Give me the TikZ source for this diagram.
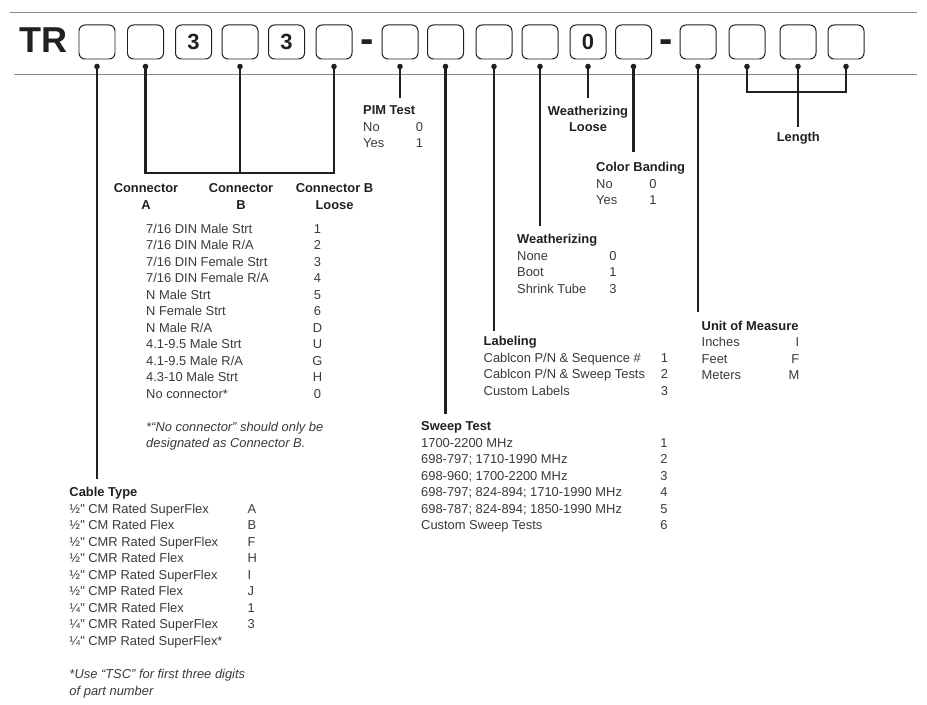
\documentclass[tikz,border=0pt]{standalone}
\usepackage{fontspec}
\setmainfont{Liberation Sans}[Ligatures=TeXOff]
\usetikzlibrary{calc}
\definecolor{inkdark}{HTML}{231F20}
\definecolor{inkbody}{HTML}{3A3A3A}
\definecolor{rulegray}{HTML}{8A8A8A}
\newcommand{\bodysize}{\fontsize{12.9bp}{16.5bp}\selectfont}

\begin{document}
\begin{tikzpicture}[x=1bp, y=-1bp]
\tikzset{
  codebox/.style={draw=inkdark, line width=1pt, rounded corners=6bp, minimum width=36bp, minimum height=34bp, inner sep=0pt},
  digit/.style={inner sep=0pt, text=inkdark, font=\bfseries\fontsize{22bp}{22bp}\selectfont},
  dashmark/.style={anchor=base, inner sep=0pt, text=inkdark, font=\bfseries\fontsize{40bp}{40bp}\selectfont},
  lead/.style={draw=inkdark, line width=2.2bp},
  rule/.style={draw=rulegray, line width=0.9bp},
  optitle/.style={anchor=base west, inner sep=0pt, text=inkdark, font=\bodysize\bfseries},
  coltitle/.style={anchor=north, align=center, inner sep=0pt, text=inkdark, font=\bodysize\bfseries},
  optitem/.style={anchor=base west, inner sep=0pt, text=inkbody, font=\bodysize},
  optnote/.style={optitem, font=\bodysize\itshape},
  optcode/.style={anchor=base, inner sep=0pt, text=inkbody, font=\bodysize},
  optcodeR/.style={optcode, anchor=base east}
}
\useasboundingbox (0,0) rectangle (927,705);

% part number strip
\draw[rule] (10,12) -- (917,12);
\draw[rule] (14,74) -- (917,74);
\node[anchor=base west, inner sep=0pt, text=inkdark, font=\bfseries\fontsize{36bp}{36bp}\selectfont] (tr) at (19,52.5) {TR};
\foreach \x [count=\i] in {97,145.5,193.5,240,286.5,334,400,445.5,494,540,588,633.5,698,747,798,846}
  \node[codebox] (b\i) at (\x,42) {};
\node[digit] (dig3) at (b3) {3};
\node[digit] (dig5) at (b5) {3};
\node[digit] (dig11) at (b11) {0};
\node[dashmark] (dash1) at (367,53) {-};
\node[dashmark] (dash2) at (666,53) {-};

% dots under the boxes
\foreach \i in {1,2,4,6,7,8,9,10,11,12,13,14,15,16}{
  \coordinate (d\i) at ($(b\i.south)+(0,7)$);
  \fill[inkdark] (d\i) circle (2.8bp);
}

% lead ends
\coordinate (e1)   at ($(d1)+(0,412)$);
\coordinate (cbar) at ($(d4)+(0,106.5)$);
\coordinate (e7)   at ($(d7)+(0,32)$);
\coordinate (e8)   at ($(d8)+(0,347)$);
\coordinate (e9)   at ($(d9)+(0,264)$);
\coordinate (e10)  at ($(d10)+(0,160)$);
\coordinate (e11)  at ($(d11)+(0,32)$);
\coordinate (e12)  at ($(d12)+(0,86)$);
\coordinate (e13)  at ($(d13)+(0,245)$);
\coordinate (lbar) at ($(d15)+(0,25.5)$);
\coordinate (e15)  at ($(d15)+(0,61)$);

% leads
\draw[lead] (d1) -- (e1);
\draw[lead] (d2) |- (cbar) -| (d6);
\draw[lead] (d4) -- (cbar);
\foreach \i in {7,...,13}
  \draw[lead] (d\i) -- (e\i);
\draw[lead] (d14) |- (lbar) -| (d16);
\draw[lead] (d15) -- (e15);

% PIM test
\node[optitle] (pim) at (363,115) {PIM Test};
\foreach \txt/\cd [count=\i from 0] in {No/0, Yes/1}{
  \node[optitem] (pim\i) at (363,131.5+16.5*\i) {\txt};
  \node[optcode] (pimcode\i) at (419.5,131.5+16.5*\i) {\cd};
}

% connectors
\node[coltitle] (cona) at (146,183.5) {Connector\\A};
\node[coltitle] (conb) at (241,183.5) {Connector\\B};
\node[coltitle] (conbl) at (334.5,183.5) {Connector B\\Loose};
\foreach \txt/\cd [count=\i from 0] in {{7/16 DIN Male Strt}/1, {7/16 DIN Male R/A}/2,
    {7/16 DIN Female Strt}/3, {7/16 DIN Female R/A}/4, {N Male Strt}/5, {N Female Strt}/6,
    {N Male R/A}/D, {4.1-9.5 Male Strt}/U, {4.1-9.5 Male R/A}/G, {4.3-10 Male Strt}/H,
    {No connector*}/0}{
  \node[optitem] (conn\i) at (146,233.3+16.5*\i) {\txt};
  \node[optcode] (conncode\i) at (317.5,233.3+16.5*\i) {\cd};
}
\node[optnote] (connote1) at (146,431.5) {*“No connector” should only be};
\node[optnote] (connote2) at (146,447.8) {designated as Connector B.};

% cable type
\node[optitle] (cable) at (69.3,496.7) {Cable Type};
\foreach \txt [count=\i from 0] in {½" CM Rated SuperFlex, ½" CM Rated Flex, ½" CMR Rated SuperFlex,
    ½" CMR Rated Flex, ½" CMP Rated SuperFlex, ½" CMP Rated Flex, ¼" CMR Rated Flex,
    ¼" CMR Rated SuperFlex, ¼" CMP Rated SuperFlex*}
  \node[optitem] (cab\i) at (69.3,513.3+16.5*\i) {\txt};
\foreach \cd [count=\i from 0] in {A,B,F,H,I,J,1,3}
  \node[optitem] (cabcode\i) at (247.5,513.3+16.5*\i) {\cd};
\node[optnote] (cabnote1) at (69.3,678.5) {*Use “TSC” for first three digits};
\node[optnote] (cabnote2) at (69.3,695) {of part number};

% sweep test
\node[optitle] (sweep) at (421,430.5) {Sweep Test};
\foreach \txt/\cd [count=\i from 0] in {1700-2200 MHz/1, {698-797; 1710-1990 MHz}/2,
    {698-960; 1700-2200 MHz}/3, {698-797; 824-894; 1710-1990 MHz}/4,
    {698-787; 824-894; 1850-1990 MHz}/5, Custom Sweep Tests/6}{
  \node[optitem] (sw\i) at (421,447+16.5*\i) {\txt};
  \node[optcode] (swcode\i) at (664,447+16.5*\i) {\cd};
}

% labeling
\node[optitle] (label) at (483.5,345.6) {Labeling};
\foreach \txt/\cd [count=\i from 0] in {{Cablcon P/N \& Sequence \#}/1,
    {Cablcon P/N \& Sweep Tests}/2, Custom Labels/3}{
  \node[optitem] (lab\i) at (483.5,362+16.5*\i) {\txt};
  \node[optcode] (labcode\i) at (664.5,362+16.5*\i) {\cd};
}

% weatherizing
\node[optitle] (weath) at (517,243.6) {Weatherizing};
\foreach \txt/\cd [count=\i from 0] in {None/0, Boot/1, Shrink Tube/3}{
  \node[optitem] (wea\i) at (517,260+16.5*\i) {\txt};
  \node[optcode] (weacode\i) at (613,260+16.5*\i) {\cd};
}
\node[coltitle] (wloose) at (588,105.5) {Weatherizing\\Loose};

% color banding
\node[optitle] (band) at (596,171.7) {Color Banding};
\foreach \txt/\cd [count=\i from 0] in {No/0, Yes/1}{
  \node[optitem] (band\i) at (596,188.3+16.5*\i) {\txt};
  \node[optcode] (bandcode\i) at (653,188.3+16.5*\i) {\cd};
}

% unit of measure
\node[optitle] (unit) at (701.5,330) {Unit of Measure};
\foreach \txt/\cd [count=\i from 0] in {Inches/I, Feet/F, Meters/M}{
  \node[optitem] (unit\i) at (701.5,346.5+16.5*\i) {\txt};
  \node[optcodeR] (unitcode\i) at (799.5,346.5+16.5*\i) {\cd};
}

% length
\node[optitle, anchor=base] (length) at (798.3,142) {Length};
\end{tikzpicture}
\end{document}
